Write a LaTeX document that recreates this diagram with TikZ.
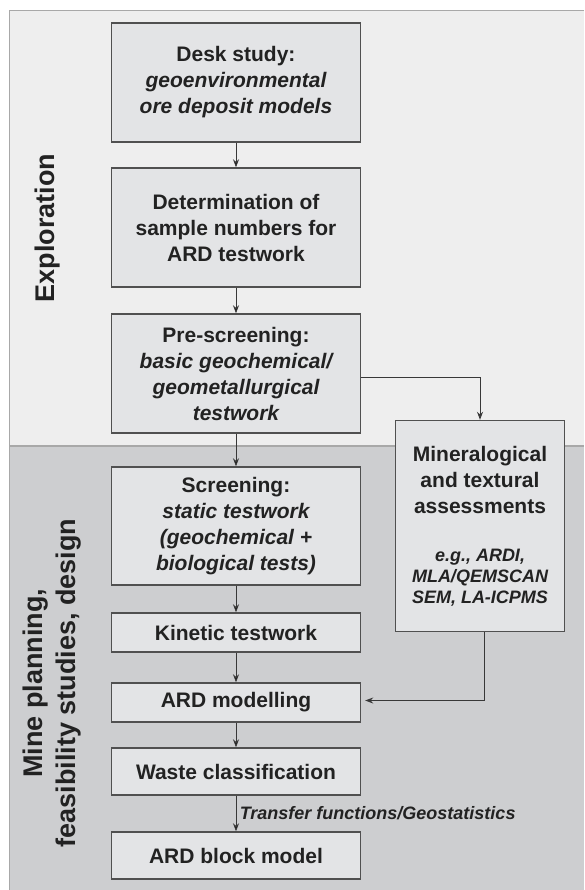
\documentclass[tikz,border=0pt]{standalone}
\usepackage{fontspec}
\setmainfont{Liberation Sans}
\usetikzlibrary{positioning,arrows.meta}
\definecolor{bandtop}{HTML}{EEEEEE}
\definecolor{bandbot}{HTML}{CDCED0}
\definecolor{boxfill}{HTML}{E3E4E6}
\definecolor{boxline}{HTML}{505050}
\definecolor{framegray}{HTML}{A8A8A8}
\definecolor{inkgray}{HTML}{222222}
\tikzset{
  stage/.style={draw=boxline, line width=1.4pt, fill=boxfill, text=inkgray, minimum width=249pt, align=center, inner sep=0pt, font=\fontsize{21}{26}\selectfont\bfseries},
  flow/.style={->, draw=inkgray!90, line width=0.9pt},
  phase/.style={rotate=90, align=center, text=inkgray, font=\fontsize{27}{33.5}\selectfont\bfseries},
  note/.style={text=inkgray, font=\fontsize{18}{20.5}\selectfont\bfseries\itshape}
}
\begin{document}
\begin{tikzpicture}[x=1pt, y=1pt, >={Stealth[length=8pt, width=6pt]}]
  \useasboundingbox (0,0) rectangle (584,-890);
  % the two phases
  \fill[bandtop] (9.3,-10.7) rectangle (584,-446);
  \fill[bandbot] (9.3,-446) rectangle (584,-890);
  \draw[framegray, line width=1.5pt] (584,-10.7) -- (9.3,-10.7) -- (9.3,-890);
  \draw[framegray, line width=1.2pt] (9.3,-446) -- (584,-446);
  \node[phase] (ph1) at (48,-228) {Exploration};
  \node[phase] (ph2) at (52,-683) {Mine planning,\\feasibility studies, design};
  % main chain
  \node[stage, minimum height=119pt] (b1) at (236,-82.5) {Desk study:\\{\itshape geoenvironmental}\\{\itshape ore deposit models}};
  \node[stage, minimum height=119pt, node distance=145pt, below of=b1] (b2) {Determination of\\sample numbers for\\ARD testwork};
  \node[stage, minimum height=119pt, node distance=146pt, below of=b2] (b3) {Pre-screening:\\{\itshape basic geochemical/}\\{\itshape geometallurgical}\\{\itshape testwork}};
  \node[stage, minimum height=118pt, node distance=152.5pt, below of=b3] (b4) {Screening:\\{\itshape static testwork}\\{\itshape (geochemical +}\\{\itshape biological tests)}};
  \node[stage, minimum height=39pt, node distance=106.5pt, below of=b4] (b5) {Kinetic testwork};
  \node[stage, minimum height=39pt, node distance=70pt, below of=b5] (b6) {ARD modelling};
  \node[stage, minimum height=47pt, node distance=69pt, below of=b6] (b7) {Waste classification};
  \node[stage, minimum height=47pt, node distance=84pt, below of=b7] (b8) {ARD block model};
  % side branch
  \node[stage, minimum width=169.5pt, minimum height=211pt, node distance=244pt, right of=b4] (m1) {Mineralogical\\and textural\\assessments\\[22pt]{\fontsize{18}{20.5}\selectfont\itshape e.g., ARDI,}\\[-5pt]{\fontsize{18}{20.5}\selectfont\itshape MLA/QEMSCAN}\\[-5pt]{\fontsize{18}{20.5}\selectfont\itshape SEM, LA-ICPMS}};
  \path[flow] (b1) edge (b2);
  \path[flow] (b2) edge (b3);
  \path[flow] (b3) edge (b4);
  \path[flow] (b4) edge (b5);
  \path[flow] (b5) edge (b6);
  \path[flow] (b6) edge (b7);
  \path[flow] (b7) edge node[note, right] {Transfer functions/Geostatistics} (b8);
  \draw[flow] ([yshift=-3.5pt]b3.east) -| (m1.north);
  \draw[flow, shorten >=4pt] ([xshift=4pt]m1.south) |- ([yshift=2pt]b6.east);
\end{tikzpicture}
\end{document}
